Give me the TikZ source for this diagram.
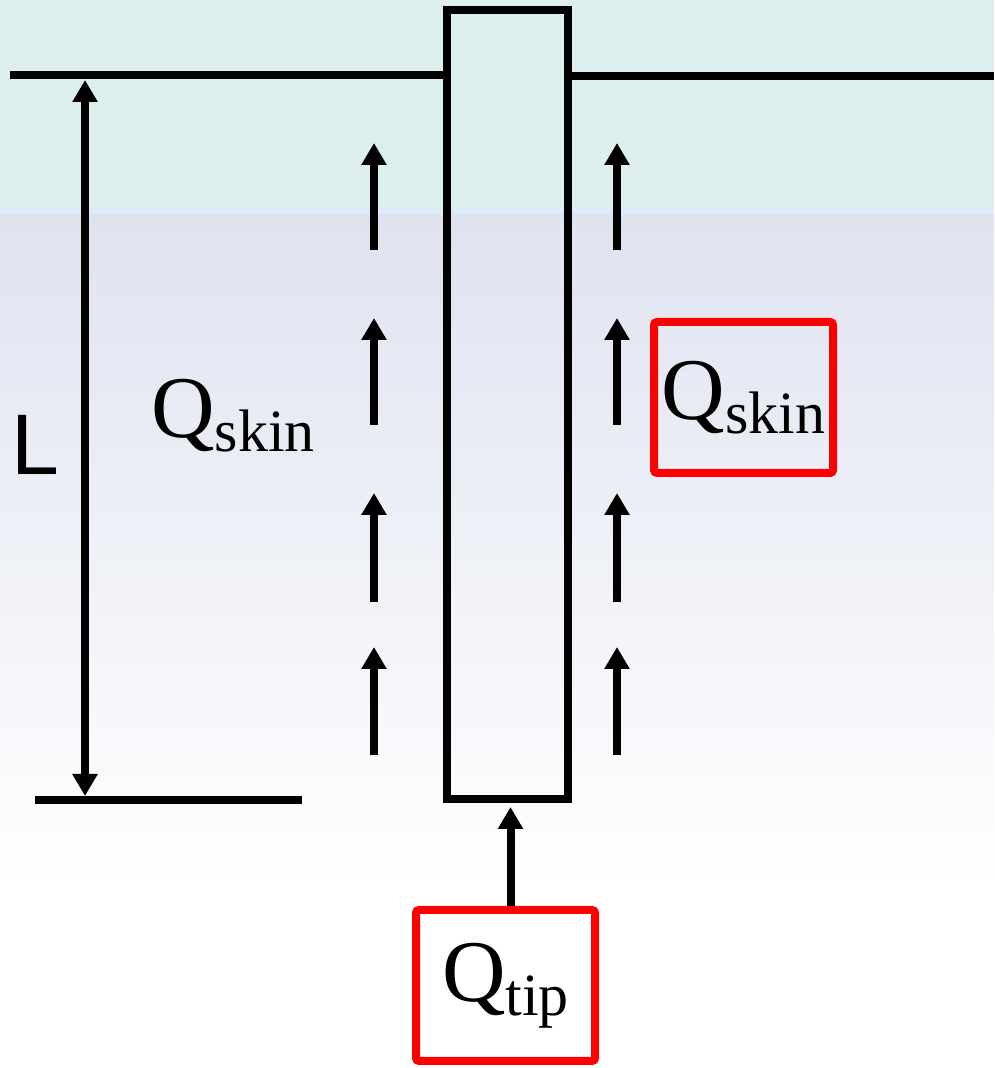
\documentclass[tikz,border=0pt]{standalone}
\usepackage{fontspec}
\setmainfont{Liberation Serif}
\newfontfamily\sansL{Liberation Sans}
\usetikzlibrary{arrows.meta}
\definecolor{sky}{HTML}{DDEEEE}
\definecolor{haze}{HTML}{DDEBFB}
\definecolor{soil}{HTML}{DFE3F0}
\definecolor{loadred}{HTML}{FF0000}
\tikzset{
  >={Triangle[width=24pt,length=22pt]},
  line/.style={line width=8pt,draw=black},
  force/.style={->,line width=8pt,draw=black},
  dim/.style={<->,line width=8pt,draw=black},
  pilebox/.style={draw=black,line width=8pt,minimum width=121pt,minimum height=789pt,inner sep=0pt},
  loadbox/.style={draw=loadred,line width=8pt,rounded corners=3pt,minimum width=179pt,minimum height=151pt,inner sep=0pt,font=\fontsize{88}{92}\selectfont},
  qtext/.style={font=\fontsize{88}{92}\selectfont,inner sep=0pt},
}
\newcommand{\qsub}[1]{\raisebox{-14pt}{\fontsize{60}{62}\selectfont #1}}

\begin{document}
\begin{tikzpicture}[x=1pt,y=1pt]
  \useasboundingbox (0,0) rectangle (994,1068);
  \fill[sky] (0,1068) rectangle (994,860);
  \fill[haze] (0,860) rectangle (994,853);
  \shade[top color=soil,bottom color=white] (0,853) rectangle (994,180);

  \node[pilebox] (pile) at (507.5,663.5) {};
  \coordinate (gl) at (10,993);
  \coordinate (gr) at (994,992);
  \draw[line] (gl) -- (gl -| pile.west);
  \draw[line] (gr -| pile.east) -- (gr);

  \coordinate (toe) at (35,268);
  \coordinate (toeend) at (302,268);
  \draw[line] (toe) -- (toeend);
  \coordinate (dimtop) at (85,988);
  \coordinate (dimbot) at (85,272);
  \draw[dim] (dimbot) -- (dimtop);
  \node[qtext,font=\fontsize{86}{90}\sansL,anchor=base west] (len) at (11,593) {L};

  \foreach \tail/\tip in {818/925,643/750,466/575,313/421} {
    \coordinate (lt) at (374,\tail); \coordinate (lh) at (374,\tip);
    \coordinate (rt) at (617,\tail); \coordinate (rh) at (617,\tip);
    \draw[force] (lt) -- (lh);
    \draw[force] (rt) -- (rh);
  }

  \node[qtext,anchor=base west] (skinl) at (151,630) {Q\qsub{skin}};
  \node[loadbox] (skinr) at (743.5,670.5) {Q\qsub{skin}};
  \node[loadbox] (qtip) at (505.5,82.5) {Q\qsub{tip}};
  \draw[force] ([xshift=5pt]qtip.north) -- ([xshift=5pt,yshift=-4pt]qtip.north |- pile.south);
\end{tikzpicture}
\end{document}
